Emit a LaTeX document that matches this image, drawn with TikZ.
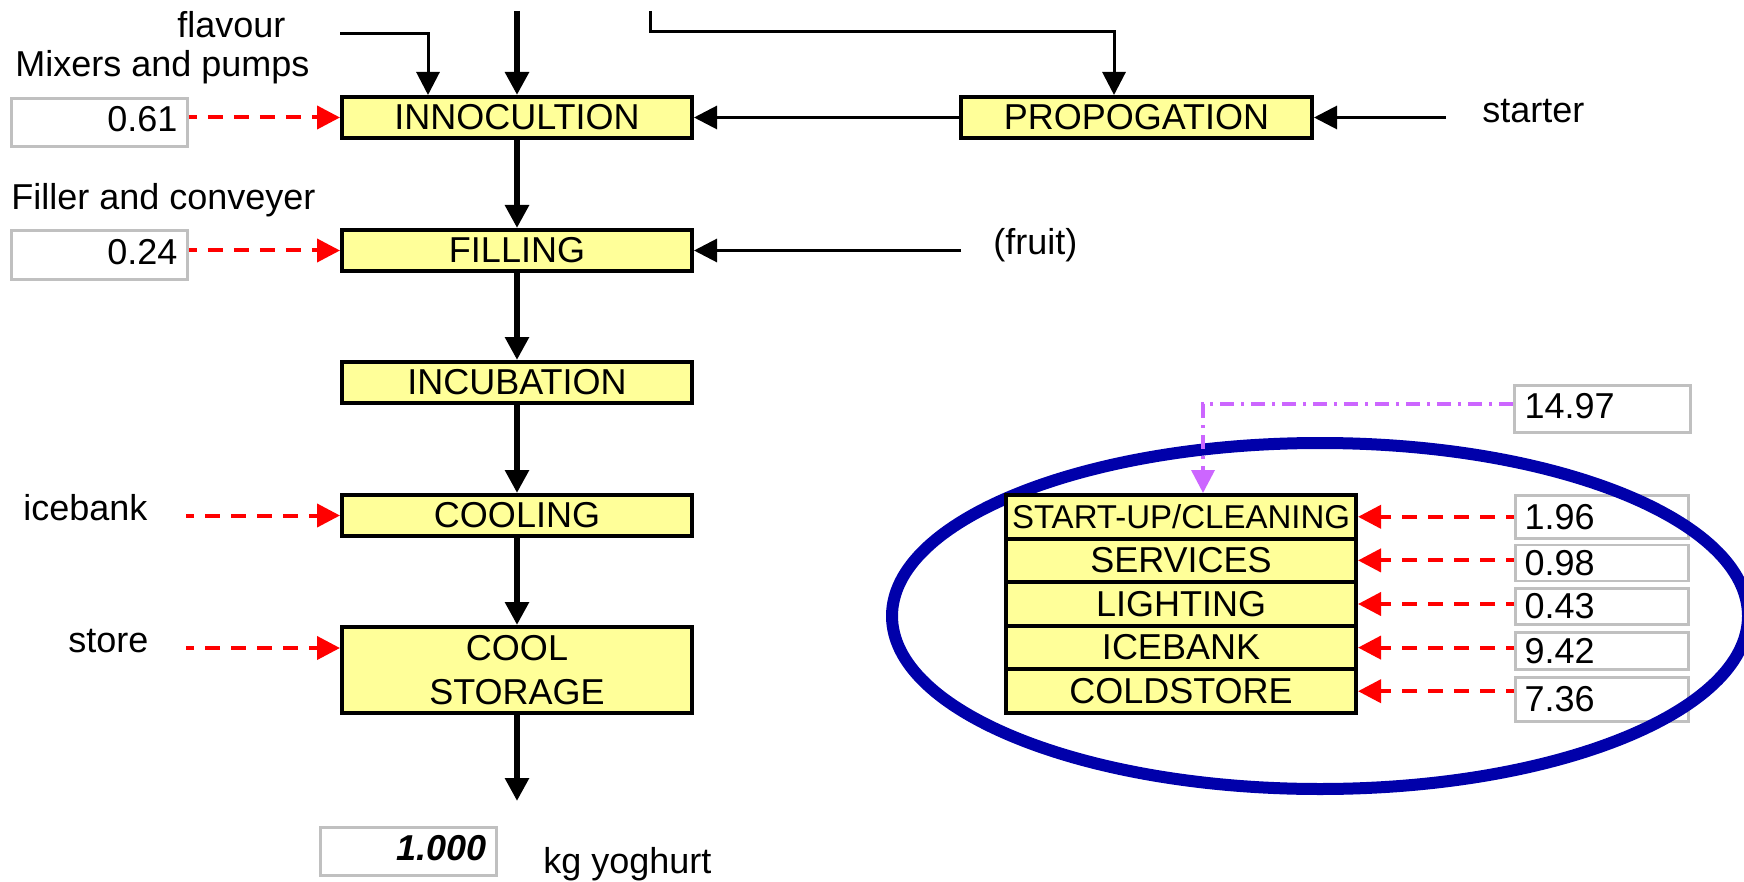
\documentclass[tikz,border=0pt]{standalone}
\usepackage{fontspec}
\setmainfont{Liberation Sans}
\usetikzlibrary{arrows.meta}
\definecolor{boxyellow}{HTML}{FFFF99}
\definecolor{boxgray}{HTML}{C0C0C0}
\definecolor{ringblue}{HTML}{0000AA}
\definecolor{linkpurple}{HTML}{CC66FF}
\definecolor{elecred}{HTML}{FF0000}
\begin{document}
\begin{tikzpicture}[x=0.5pt,y=-0.5pt,
  every node/.style={font=\fontsize{18}{22}\selectfont},
  pbox/.style={draw=black, line width=2pt, fill=boxyellow, minimum width=175pt,
    minimum height=20.5pt, inner sep=0pt, align=center},
  sbox/.style={pbox, minimum height=21.8pt},
  vbox/.style={draw=boxgray, line width=1.35pt, inner xsep=5pt, inner ysep=0pt,
    text width=78pt, text height=13pt, text depth=4pt},
  svbox/.style={draw=boxgray, line width=1.35pt, inner xsep=4.5pt, inner ysep=0pt,
    text width=77.5pt, align=left},
  lbl/.style={inner sep=0pt, anchor=base west},
  tip/.style={-{Triangle[length=11.5pt,width=11.5pt]}},
  thickarr/.style={tip, line width=3.2pt},
  thinarr/.style={tip, line width=1.5pt},
  elecarr/.style={tip, elecred, line width=2pt, dash pattern=on 7.5pt off 5.5pt, dash phase=3.5pt},
  purparr/.style={tip, linkpurple, line width=1.8pt, dash pattern=on 7pt off 3.5pt on 1.5pt off 3.5pt}
]
\useasboundingbox (0,0) rectangle (1744,882);

% value boxes
\node[vbox, minimum height=24pt, align=right] (v61) at (99.5,122.5) {0.61};
\node[vbox, minimum height=24.5pt, align=right] (v24) at (99.5,255) {0.24};
\node[vbox, minimum height=24pt, align=right, font=\fontsize{18}{22}\selectfont\bfseries\itshape] (v1000) at (408.5,851.5) {1.000};
\node[vbox, minimum height=23.5pt, align=left] (v1497) at (1602.5,409) {14.97};
\node[svbox, minimum height=21.5pt] (v196) at (1602,517) {1.96};
\node[svbox, minimum height=18pt] (v098) at (1602,563) {0.98};
\node[svbox, minimum height=18pt] (v043) at (1602,606.5) {0.43};
\node[svbox, minimum height=18.5pt] (v942) at (1602,651) {9.42};
\node[svbox, minimum height=22pt] (v736) at (1602,699.5) {7.36};

% grouping ring
\draw[ringblue, line width=6pt] (1320,616) ellipse [x radius=214pt, y radius=86.5pt];

% process boxes
\node[pbox] (inno) at (517,117.5) {INNOCULTION};
\node[pbox] (fill) at (517,250.5) {FILLING};
\node[pbox] (incu) at (517,382.5) {INCUBATION};
\node[pbox] (cool) at (517,515.5) {COOLING};
\node[pbox, minimum height=43pt] (cstore) at (517,670) {COOL\\STORAGE};
\node[pbox, minimum width=175.5pt] (prop) at (1136.5,117.5) {PROPOGATION};

% stacked services
\node[sbox, font=\fontsize{16.5}{20}\selectfont] (s1) at (1181,516.8) {START-UP/CLEANING};
\node[sbox] (s2) at (1181,560.4) {SERVICES};
\node[sbox] (s3) at (1181,604) {LIGHTING};
\node[sbox] (s4) at (1181,647.6) {ICEBANK};
\node[sbox] (s5) at (1181,691.2) {COLDSTORE};

% labels
\node[lbl] (lflav) at (177,38) {flavour};
\node[lbl] (lmix) at (15,77) {Mixers and pumps};
\node[lbl] (lfil) at (11,210) {Filler and conveyer};
\node[lbl] (lice) at (23,520.5) {icebank};
\node[lbl] (lsto) at (68,652) {store};
\node[lbl] (lkg) at (543,873) {kg yoghurt};
\node[lbl] (lfru) at (993,255) {(fruit)};
\node[lbl] (lsta) at (1482,122.5) {starter};

% free ends
\coordinate (t1) at (517,11);
\coordinate (f1) at (340,33.5);
\coordinate (p1) at (650,11);
\coordinate (p2) at (1114,32);
\coordinate (st0) at (1446,117.5);
\coordinate (fr0) at (961,250.5);
\coordinate (ib0) at (186,515.5);
\coordinate (so0) at (186,648);
\coordinate (out) at (517,801);
\coordinate (pc) at (1203,404);

% main flow
\draw[thickarr] (t1) -- (inno.north);
\draw[thickarr] (inno.south) -- (fill.north);
\draw[thickarr] (fill.south) -- (incu.north);
\draw[thickarr] (incu.south) -- (cool.north);
\draw[thickarr] (cool.south) -- (cstore.north);
\draw[thickarr] (cstore.south) -- (out);

% thin feeds
\draw[thinarr] (f1) -| ([xshift=44pt]inno.north west);
\draw[thinarr] (p1) |- (p2) -- (p2 |- prop.north);
\draw[thinarr] (prop.west) -- (inno.east);
\draw[thinarr] (st0) -- (prop.east);
\draw[thinarr] (fr0) -- (fill.east);

% electricity
\draw[elecarr] (v61.east |- inno.west) -- (inno.west);
\draw[elecarr] (v24.east |- fill.west) -- (fill.west);
\draw[elecarr] (ib0) -- (cool.west);
\draw[elecarr] (so0) -- (cstore.west |- so0);
\draw[elecarr] (v196.west |- s1.east) -- (s1.east);
\draw[elecarr] (v098.west |- s2.east) -- (s2.east);
\draw[elecarr] (v043.west |- s3.east) -- (s3.east);
\draw[elecarr] (v942.west |- s4.east) -- (s4.east);
\draw[elecarr] (v736.west |- s5.east) -- (s5.east);

% total link
\draw[purparr] (v1497.west |- pc) -- (pc) -- (pc |- s1.north);
\end{tikzpicture}
\end{document}
